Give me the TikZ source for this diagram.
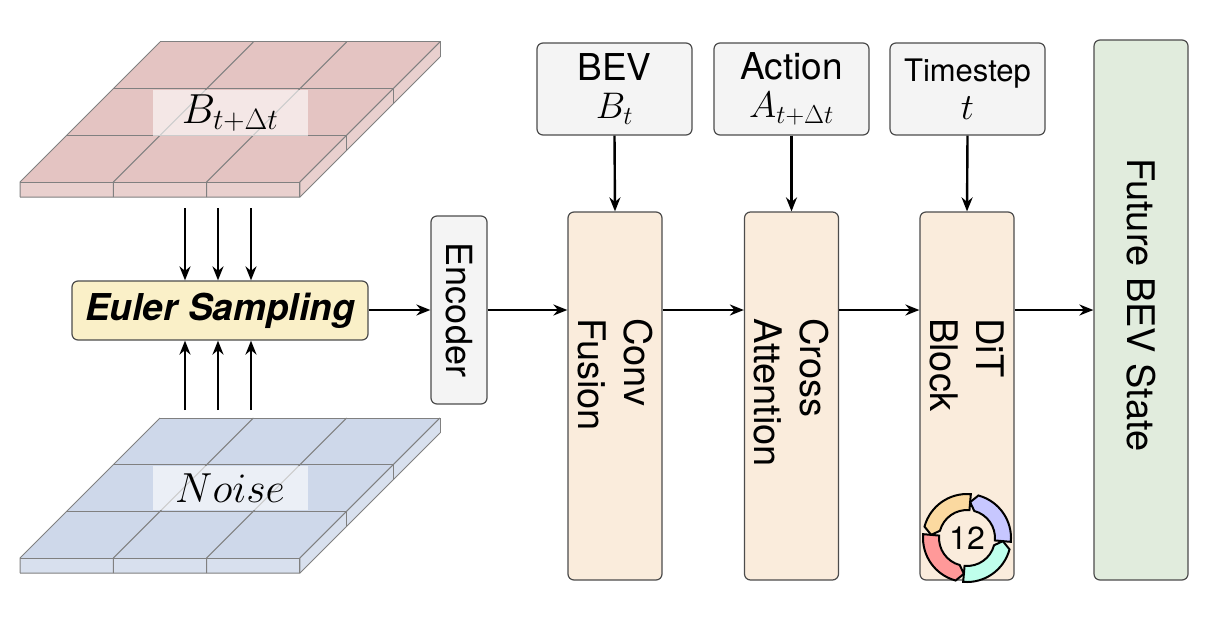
\RequirePackage{fix-cm}
\documentclass[tikz,border=0pt]{standalone}
\usepackage{fontspec}
\setmainfont{TeX Gyre Heros}
\usetikzlibrary{arrows.meta}

\definecolor{redtile}{RGB}{228,196,194}
\definecolor{bluetile}{RGB}{206,216,234}
\definecolor{yellowbox}{RGB}{250,240,200}
\definecolor{peachbox}{RGB}{250,236,220}
\definecolor{greenbox}{RGB}{225,236,221}
\definecolor{graybox}{RGB}{244,244,244}

\begin{document}
\begin{tikzpicture}[x=1pt,y=-1pt,
every node/.style={inner sep=0pt, font=\fontsize{38}{40}\selectfont},
blk/.style={draw=black!70, line width=1.2pt, rounded corners=6pt},
arr/.style={-{Stealth[length=14pt,width=11pt]}, line width=2.4pt}
]
\useasboundingbox (0,0) rectangle (1212,618);

% grids
\foreach \y/\c in {42/redtile, 418/bluetile}{
  \fill[\c!80] (20,\y+140) -- (300,\y+140) -- (440,\y) -- (440,\y+15) -- (300,\y+155) -- (20,\y+155) -- cycle;
  \fill[\c] (160,\y) -- (440,\y) -- (300,\y+140) -- (20,\y+140) -- cycle;
  \foreach \k in {0,1,2,3}{
    \draw[gray, line width=1pt] (160+\k*93.3,\y) -- (20+\k*93.3,\y+140) -- ++(0,15);
    \draw[gray, line width=1pt] (160-\k*46.7,\y+\k*46.7) -- (440-\k*46.7,\y+\k*46.7) -- ++(0,15);
  }
  \draw[gray, line width=1pt] (20,\y+155) -- (300,\y+155) -- (440,\y+15);
}
\node[fill=white, fill opacity=0.6, text opacity=1, minimum width=155pt, minimum height=46pt, font=\fontsize{42}{44}\selectfont] (bnext) at (230,113) {$B_{t+\Delta t}$};
\node[fill=white, fill opacity=0.6, text opacity=1, minimum width=155pt, minimum height=44pt, font=\fontsize{42}{44}\selectfont] (noise) at (230,488) {$Noise$};

% blocks
\node[blk, fill=yellowbox, minimum width=296pt, minimum height=59pt, font=\fontsize{37}{39}\selectfont\bfseries\itshape] (euler) at (220,310.5) {Euler Sampling};
\node[blk, fill=graybox, minimum width=56pt, minimum height=188pt] (enc) at (459,310) {};
\node[rotate=-90, font=\fontsize{36}{38}\selectfont] at (enc) {Encoder};
\foreach \n/\x/\t in {conv/615/Conv\\Fusion, cross/791.5/Cross\\Attention, dit/967/DiT\\Block}{
  \node[blk, fill=peachbox, minimum width=94pt, minimum height=368pt] (\n) at (\x,396) {};
  \node[rotate=-90, anchor=west, align=left, font=\fontsize{38}{46}\selectfont] at (\x,318) {\t};
}
\node[blk, fill=greenbox, minimum width=94pt, minimum height=540pt] (future) at (1141,310) {};
\node[rotate=-90] at (1141,305) {Future BEV State};
\node[blk, fill=graybox, minimum width=155pt, minimum height=92pt, align=center, font=\fontsize{37}{42}\selectfont] (bev) at (614.5,89) {BEV\\[-4pt]$B_t$};
\node[blk, fill=graybox, minimum width=155pt, minimum height=92pt, align=center, font=\fontsize{37}{42}\selectfont] (act) at (791.5,89) {Action\\[-4pt]$A_{t+\Delta t}$};
\node[blk, fill=graybox, minimum width=155pt, minimum height=92pt, align=center, font=\fontsize{37}{42}\selectfont] (ts) at (967.5,89) {\fontsize{31}{33}\selectfont Timestep\\[-4pt]$t$};

% repeat icon
\coordinate (cyc) at (967,538);
\foreach \a/\c in {180/yellowbox!80!orange, -90/blue!22, 0/green!30!cyan!25, 90/red!40}{
  \draw[black, line width=2pt, fill=\c] ([shift={(\a+95:44)}]cyc) arc[start angle=\a+95, end angle=\a+15, radius=44]
    -- ([shift={(\a+5:36)}]cyc) -- ([shift={(\a+15:28)}]cyc) arc[start angle=\a+15, end angle=\a+95, radius=28] -- cycle;
}
\node[font=\fontsize{32}{34}\selectfont] at (cyc) {12};

% connectors
\coordinate (d1) at (185,208); \coordinate (d2) at (218,208); \coordinate (d3) at (251,208);
\coordinate (u1) at (185,410); \coordinate (u2) at (218,410); \coordinate (u3) at (251,410);
\foreach \i in {1,2,3}{
  \draw[arr] (d\i) -- (d\i |- euler.north);
  \draw[arr] (u\i) -- (u\i |- euler.south);
}
\foreach \i/\j in {euler/enc, enc/conv, conv/cross, cross/dit, dit/future}
  \draw[arr] (\i.east |- 0,310) -- (\j.west |- 0,310);
\foreach \i/\j in {bev/conv, act/cross, ts/dit}
  \draw[arr] (\i.south) -- (\j.north);

\end{tikzpicture}
\end{document}
